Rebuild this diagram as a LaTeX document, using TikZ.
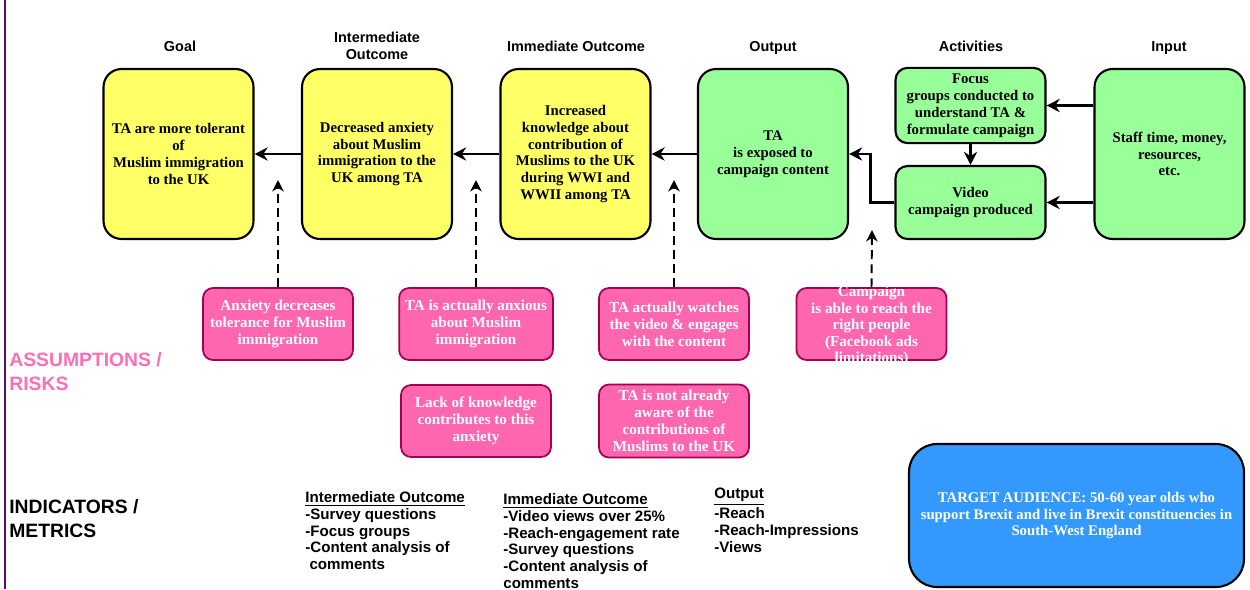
\documentclass[tikz,border=0pt]{standalone}
\usepackage{fontspec}
\setmainfont{Liberation Serif}
\setsansfont{Liberation Sans}
\usetikzlibrary{arrows.meta}
\definecolor{goalyellow}{HTML}{FFFF66}
\definecolor{outgreen}{HTML}{99FF99}
\definecolor{riskpink}{HTML}{FF66B0}
\definecolor{riskedge}{HTML}{A3004F}
\definecolor{riskhead}{HTML}{FF6EB4}
\definecolor{tablue}{HTML}{3399FF}
\definecolor{sidepurple}{HTML}{5C0F5C}

\begin{document}
\begin{tikzpicture}[x=0.02cm,y=-0.02cm,
    header/.style={font=\sffamily\bfseries\fontsize{8.2}{9.6}\selectfont,align=center,anchor=base},
    bigbox/.style={draw=black,line width=1.2pt,rounded corners=0.36cm,minimum width=3cm,
      align=center,font=\bfseries\fontsize{8.4}{9.6}\selectfont},
    yellowbox/.style={bigbox,fill=goalyellow,minimum height=3.4cm},
    greenbox/.style={bigbox,fill=outgreen,minimum height=3.4cm},
    smallgreen/.style={bigbox,fill=outgreen,minimum height=1.46cm,rounded corners=0.24cm},
    riskbox/.style={draw=riskedge,line width=1pt,fill=riskpink,rounded corners=0.2cm,
      minimum width=3cm,minimum height=1.44cm,align=center,text=white,
      font=\bfseries\fontsize{8.6}{9.6}\selectfont},
    sidehead/.style={anchor=west,align=left,inner sep=0pt,font=\sffamily\bfseries\fontsize{11}{13.6}\selectfont},
    metric/.style={anchor=north west,align=left,inner sep=0pt,font=\sffamily\bfseries\fontsize{8.6}{9.6}\selectfont},
    flow/.style={line width=1.7pt,-{Stealth[length=7.5pt,width=7.5pt,inset=2.5pt]}},
    assume/.style={line width=1.1pt,dash pattern=on 5pt off 3pt,-{Stealth[length=6.5pt,width=6.5pt,inset=2pt]}}]
  \useasboundingbox (0,0) rectangle (1250,589);
  \draw [sidepurple,line width=1.7pt] (5,0) -- (5,589);

  % column headings
  \node [header] (hgoal) at (180,51) {Goal};
  \node [header,anchor=center] (hinter) at (377,46) {Intermediate\\Outcome};
  \node [header] (himmed) at (576,51) {Immediate Outcome};
  \node [header] (hout) at (773,51) {Output};
  \node [header] (hact) at (971,51) {Activities};
  \node [header] (hin) at (1169,51) {Input};

  % results chain
  \node [yellowbox] (goal) at (178.5,154) {TA are more tolerant\\of\\Muslim immigration\\to the UK};
  \node [yellowbox] (inter) at (377,154) {Decreased anxiety\\about Muslim\\immigration to the\\UK among TA};
  \node [yellowbox] (immed) at (575.5,154) {Increased\\knowledge about\\contribution of\\Muslims to the UK\\during WWI and\\WWII among TA};
  \node [greenbox] (output) at (773,154) {TA\\is exposed to\\campaign content};
  \node [smallgreen] (focus) at (970.5,105.5) {Focus\\groups conducted to\\understand TA \&\\formulate campaign};
  \node [smallgreen] (video) at (970.5,202.5) {Video\\campaign produced};
  \node [greenbox] (input) at (1169.5,154) {Staff time, money,\\resources,\\etc.};

  \draw [flow] (inter) -- (goal);
  \draw [flow] (immed) -- (inter);
  \draw [flow] (output) -- (immed);
  \draw [flow] (video.west) -- ++(-24,0) |- (output.east);
  \draw [flow] (focus) -- (video);
  \draw [flow] (input.west |- focus) -- (focus);
  \draw [flow] (input.west |- video) -- (video);

  % assumptions / risks
  \node [sidehead,text=riskhead] (assumptions) at (9,372) {ASSUMPTIONS /\\RISKS};
  \node [riskbox] (anxdec) at (278,324) {Anxiety decreases\\tolerance for Muslim\\immigration};
  \node [riskbox] (anxious) at (476,324) {TA is actually anxious\\about Muslim\\immigration};
  \node [riskbox] (watches) at (674,324) {TA actually watches\\the video \& engages\\with the content};
  \node [riskbox] (reach) at (871.5,324) {};
  \node [align=center,text=white,font=\bfseries\fontsize{8.6}{9.4}\selectfont] (reachtxt) at (871.5,326)
    {Campaign\\is able to reach the\\right people\\(Facebook ads\\limitations)};
  \node [riskbox] (lack) at (476,421) {Lack of knowledge\\contributes to this\\anxiety};
  \node [riskbox] (aware) at (674,421) {TA is not already\\aware of the\\contributions of\\Muslims to the UK};

  \coordinate (tgoal) at (278,180);
  \coordinate (tinter) at (476,180);
  \coordinate (timmed) at (674,180);
  \coordinate (tout) at (872,230);
  \draw [assume] (anxdec.north) -- (tgoal);
  \draw [assume] (anxious.north) -- (tinter);
  \draw [assume] (watches.north) -- (timmed);
  \draw [assume] (reach.north) -- (tout);

  % indicators / metrics
  \node [sidehead] (indicators) at (9,519) {INDICATORS /\\METRICS};
  \node [metric] (minter) at (305,491) {\underline{Intermediate Outcome}\\-Survey questions\\-Focus groups\\-Content analysis of\\\ comments};
  \node [metric] (mimmed) at (503,493) {\underline{Immediate Outcome}\\-Video views over 25\%\\-Reach-engagement rate\\-Survey questions\\-Content analysis of\\comments};
  \node [metric] (mout) at (714,488) {\underline{Output}\\-Reach\\-Reach-Impressions\\-Views};

  \node [draw=black,line width=1.2pt,fill=tablue,rounded corners=0.56cm,minimum width=6.7cm,
    minimum height=2.86cm,align=center,text=white,font=\bfseries\fontsize{8.4}{9.6}\selectfont]
    (audience) at (1076.5,515.5) {TARGET AUDIENCE: 50-60 year olds who\\support Brexit and live in Brexit constituencies in\\South-West England};
\end{tikzpicture}
\end{document}
